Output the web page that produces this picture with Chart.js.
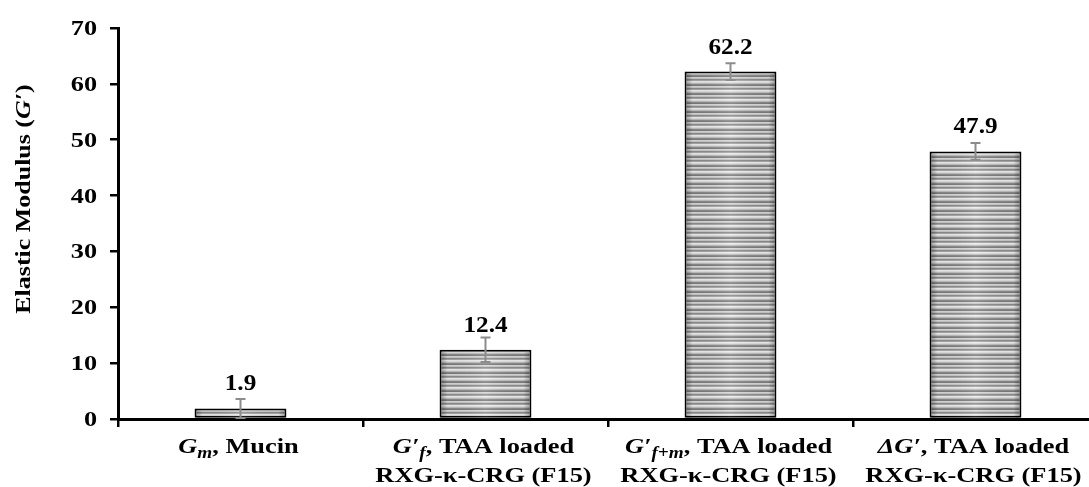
<!DOCTYPE html>
<html>
<head>
<meta charset="utf-8">
<script src="https://cdn.jsdelivr.net/npm/chart.js@4.4.1/dist/chart.umd.min.js"></script>
<style>
  html, body { margin: 0; padding: 0; background: #fff; overflow: hidden; }
  #wrap { width: 1100px; height: 487px; }
  canvas { display: block; }
</style>
</head>
<body>
<div id="wrap"><canvas id="chart" width="1100" height="487"></canvas></div>
<script>
// Category labels: *...* = italic, _{...} = italic subscript, \n = line break
const categories = [
  '*G*_{m}, Mucin',
  '*G′*_{f}, TAA loaded\nRXG-κ-CRG (F15)',
  '*G′*_{f+m}, TAA loaded\nRXG-κ-CRG (F15)',
  '*ΔG′*, TAA loaded\nRXG-κ-CRG (F15)'
];
const modulusValues = [1.9, 12.4, 62.2, 47.9];
const modulusErrors = [1.7, 2.2, 1.5, 1.5];
const valueLabels = ['1.9', '12.4', '62.2', '47.9'];
const yTickValues = [0, 10, 20, 30, 40, 50, 60, 70];
const yTitle = 'Elastic Modulus (*G′*)';

const SERIF = '"Liberation Serif", "Times New Roman", serif';

// Parse the tiny markup into runs of {text, italic, sub}
function parseRuns(str) {
  const runs = [];
  let i = 0, buf = '';
  const flush = () => { if (buf) { runs.push({ text: buf, italic: false, sub: false }); buf = ''; } };
  while (i < str.length) {
    if (str[i] === '*') {
      flush();
      const j = str.indexOf('*', i + 1);
      runs.push({ text: str.slice(i + 1, j), italic: true, sub: false });
      i = j + 1;
    } else if (str.startsWith('_{', i)) {
      flush();
      const j = str.indexOf('}', i);
      runs.push({ text: str.slice(i + 2, j), italic: true, sub: true });
      i = j + 1;
    } else { buf += str[i]; i++; }
  }
  flush();
  return runs;
}
const plainText = s => s.replace(/\*/g, '').replace(/_\{([^}]*)\}/g, '$1').replace(/\n/g, ' ');

// Draw a line of runs centred on (cx, baseline), stretched horizontally by sx
function drawRuns(ctx, runs, cx, baseline, size, sx, align) {
  const subSize = Math.round(size * 0.72);
  const pieces = runs.map(r => {
    const fs = r.sub ? subSize : size;
    const font = (r.italic ? 'italic ' : '') + 'bold ' + fs + 'px ' + SERIF;
    ctx.font = font;
    return { r, font, w: ctx.measureText(r.text).width * sx };
  });
  const total = pieces.reduce((a, p) => a + p.w, 0);
  let x = align === 'right' ? cx - total : (align === 'left' ? cx : cx - total / 2);
  pieces.forEach(p => {
    ctx.save();
    ctx.font = p.font;
    ctx.translate(x, baseline + (p.r.sub ? 5 : 0));
    ctx.scale(sx, 1);
    ctx.textAlign = 'left';
    ctx.textBaseline = 'alphabetic';
    ctx.fillText(p.r.text, 0, 0);
    ctx.restore();
    x += p.w;
  });
}

// Horizontal-stripe fill for the bars
function makeStripes(ctx) {
  const c = document.createElement('canvas');
  c.width = 4; c.height = 9;
  const g = c.getContext('2d');
  const rows = ['#ececec', '#dedede', '#bcbcbc', '#8a8a8a', '#7c7c7c', '#d8d8d8', '#c6c6c6', '#8c8c8c', '#a6a6a6'];
  rows.forEach((col, k) => { g.fillStyle = col; g.fillRect(0, k, 4, 1); });
  return ctx.createPattern(c, 'repeat');
}

const canvas = document.getElementById('chart');
const ctx2d = canvas.getContext('2d');

const decorations = {
  id: 'decorations',
  afterDatasetsDraw(chart) {
    const ctx = chart.ctx;
    const meta = chart.getDatasetMeta(0);
    const y = chart.scales.y;
    meta.data.forEach((bar, i) => {
      const bw = 2;
      const left = bar.x - bar.width / 2 + bw, right = bar.x + bar.width / 2 - bw;
      const top = bar.y + bw, bottom = bar.base;
      // edge shading across each bar
      const grad = ctx.createLinearGradient(left, 0, right, 0);
      grad.addColorStop(0, 'rgba(0,0,0,0.28)');
      grad.addColorStop(0.07, 'rgba(0,0,0,0.04)');
      grad.addColorStop(0.5, 'rgba(255,255,255,0.12)');
      grad.addColorStop(0.93, 'rgba(0,0,0,0.04)');
      grad.addColorStop(1, 'rgba(0,0,0,0.28)');
      ctx.save();
      ctx.fillStyle = grad;
      if (bottom > top) ctx.fillRect(left, top, right - left, bottom - top);
      ctx.restore();

      // error bars
      const v = modulusValues[i], e = modulusErrors[i];
      const yHi = y.getPixelForValue(v + e), yLo = y.getPixelForValue(Math.max(0, v - e));
      ctx.save();
      ctx.strokeStyle = '#8c8c8c';
      ctx.lineWidth = 2;
      ctx.beginPath();
      ctx.moveTo(bar.x, yHi); ctx.lineTo(bar.x, yLo);
      ctx.moveTo(bar.x - 5, yHi); ctx.lineTo(bar.x + 5, yHi);
      ctx.moveTo(bar.x - 5, yLo); ctx.lineTo(bar.x + 5, yLo);
      ctx.stroke();
      ctx.restore();

      // value label
      ctx.save();
      ctx.fillStyle = '#000';
      drawRuns(ctx, [{ text: valueLabels[i], italic: false, sub: false }], bar.x, bar.y - 18, 24, 1.05, 'center');
      ctx.restore();
    });
  },
  afterDraw(chart) {
    const ctx = chart.ctx;
    const xs = chart.scales.x, ys = chart.scales.y;
    ctx.save();
    ctx.fillStyle = '#000';
    // y tick labels
    yTickValues.forEach(v => {
      drawRuns(ctx, [{ text: String(v), italic: false, sub: false }], 97, ys.getPixelForValue(v) + 7, 21, 1.25, 'right');
    });
    // category labels
    categories.forEach((lab, i) => {
      const cx = xs.getPixelForValue(i) - 2;
      lab.split('\n').forEach((line, k) => {
        drawRuns(ctx, parseRuns(line), cx, 453 + k * 29, 22, 1.2, 'center');
      });
    });
    // y axis title
    ctx.save();
    ctx.translate(30, 199);
    ctx.rotate(-Math.PI / 2);
    drawRuns(ctx, parseRuns(yTitle), 0, 0, 22, 1.18, 'center');
    ctx.restore();
    ctx.restore();
  }
};

new Chart(ctx2d, {
  type: 'bar',
  data: {
    labels: categories.map(plainText),
    datasets: [{
      data: modulusValues,
      backgroundColor: makeStripes(ctx2d),
      borderColor: '#000',
      borderWidth: 2,
      borderSkipped: false,
      barPercentage: 0.375,
      categoryPercentage: 1
    }]
  },
  options: {
    responsive: false,
    animation: false,
    devicePixelRatio: 1,
    layout: { padding: { top: 28, right: 2, left: 0, bottom: 0 } },
    plugins: { legend: { display: false }, tooltip: { enabled: false } },
    scales: {
      x: {
        ticks: { display: false },
        grid: { display: true, drawOnChartArea: false, drawTicks: true, tickLength: 8, lineWidth: 2.5, color: '#000', offset: true },
        border: { display: true, color: '#000', width: 3 },
        afterFit: s => { s.height = 68; }
      },
      y: {
        min: 0, max: 70,
        ticks: { display: false, stepSize: 10 },
        grid: { display: true, drawOnChartArea: false, drawTicks: true, tickLength: 8, lineWidth: 2.5, color: '#000' },
        border: { display: true, color: '#000', width: 3 },
        afterFit: s => { s.width = 118; }
      }
    }
  },
  plugins: [decorations]
});
</script>
</body>
</html>
